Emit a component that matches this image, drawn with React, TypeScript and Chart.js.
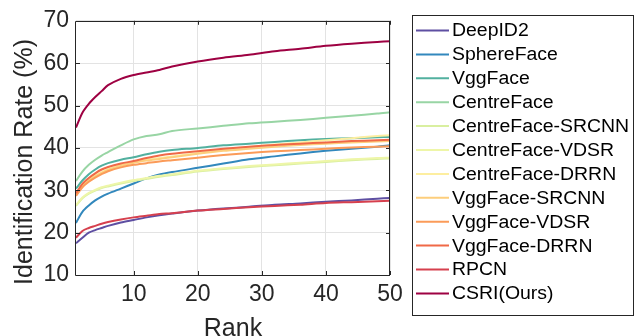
import React, { useEffect, useRef } from "react";
import { Chart, registerables } from "chart.js";

Chart.register(...registerables);

const ranks = [1, 2, 3, 4, 5, 6, 8, 10, 12, 14, 16, 20, 24, 28, 32, 36, 40, 44, 48, 50];

const seriesNames = [
  "DeepID2",
  "SphereFace",
  "VggFace",
  "CentreFace",
  "CentreFace-SRCNN",
  "CentreFace-VDSR",
  "CentreFace-DRRN",
  "VggFace-SRCNN",
  "VggFace-VDSR",
  "VggFace-DRRN",
  "RPCN",
  "CSRI(Ours)",
];

const seriesColors = [
  "#5e4fa2",
  "#3288bd",
  "#52b09f",
  "#98d5a4",
  "#d9efa0",
  "#eef6a8",
  "#fdeea0",
  "#fdce7c",
  "#fb9b59",
  "#f06947",
  "#d6404e",
  "#9e0142",
];

const deepID2 = [17.5, 18.8, 20.0, 20.6, 21.1, 21.6, 22.4, 23.0, 23.6, 24.1, 24.5, 25.2, 25.7, 26.1, 26.6, 26.9, 27.3, 27.6, 28.0, 28.2];
const sphereFace = [22.3, 24.9, 26.4, 27.6, 28.5, 29.2, 30.4, 31.6, 32.8, 33.7, 34.3, 35.3, 36.3, 37.3, 38.0, 38.7, 39.3, 39.8, 40.3, 40.6];
const vggFace = [30.4, 32.3, 33.8, 34.9, 35.8, 36.4, 37.2, 37.8, 38.5, 39.1, 39.5, 40.0, 40.6, 41.0, 41.4, 41.8, 42.1, 42.3, 42.5, 42.6];
const centreFace = [32.2, 34.4, 36.0, 37.2, 38.2, 39.0, 40.6, 42.0, 42.8, 43.2, 44.0, 44.6, 45.2, 45.8, 46.2, 46.6, 47.1, 47.6, 48.1, 48.4];
const centreFaceSRCNN = [26.3, 28.1, 29.2, 29.9, 30.5, 30.9, 31.6, 32.2, 32.7, 33.2, 33.6, 34.4, 35.0, 35.5, 35.9, 36.3, 36.7, 37.1, 37.4, 37.5];
const centreFaceVDSR = [26.5, 28.3, 29.4, 30.1, 30.7, 31.1, 31.8, 32.4, 32.9, 33.4, 33.8, 34.6, 35.2, 35.7, 36.1, 36.5, 36.9, 37.3, 37.6, 37.7];
const centreFaceDRRN = [29.0, 31.0, 32.5, 33.5, 34.3, 35.0, 36.0, 36.7, 37.2, 37.6, 38.0, 38.8, 39.6, 40.2, 40.8, 41.3, 41.8, 42.3, 42.8, 43.0];
const vggFaceSRCNN = [28.9, 30.9, 32.3, 33.3, 34.1, 34.8, 35.8, 36.5, 37.0, 37.4, 37.8, 38.6, 39.3, 39.8, 40.3, 40.7, 41.0, 41.3, 41.5, 41.6];
const vggFaceVDSR = [28.7, 30.7, 32.0, 33.0, 33.8, 34.5, 35.4, 36.0, 36.4, 36.8, 37.1, 37.7, 38.3, 38.8, 39.2, 39.5, 39.8, 40.1, 40.3, 40.4];
const vggFaceDRRN = [29.3, 31.5, 32.9, 34.0, 34.9, 35.5, 36.3, 36.9, 37.6, 38.2, 38.6, 39.2, 39.8, 40.3, 40.7, 41.0, 41.3, 41.6, 41.8, 41.9];
const rpcn = [18.8, 20.4, 21.1, 21.6, 22.1, 22.5, 23.1, 23.6, 24.0, 24.4, 24.6, 25.2, 25.6, 26.0, 26.3, 26.6, 27.0, 27.2, 27.4, 27.5];
const csri = [44.8, 48.3, 50.4, 52.0, 53.4, 54.8, 56.3, 57.2, 57.8, 58.4, 59.2, 60.4, 61.3, 62.0, 62.8, 63.4, 64.1, 64.6, 65.0, 65.2];

const seriesValues = [
  deepID2,
  sphereFace,
  vggFace,
  centreFace,
  centreFaceSRCNN,
  centreFaceVDSR,
  centreFaceDRRN,
  vggFaceSRCNN,
  vggFaceVDSR,
  vggFaceDRRN,
  rpcn,
  csri,
];

const xTickValues = [10, 20, 30, 40, 50];
const yTickValues = [10, 20, 30, 40, 50, 60, 70];
const xTitle = "Rank";
const yTitle = "Identification Rate (%)";

const FONT = "'Liberation Sans', Arial, Helvetica, sans-serif";
const AXIS_COLOR = "#262626";

const framePlugin = {
  id: "frameAndLegend",
  afterDraw(chart: any) {
    const { ctx, chartArea } = chart;
    const { left, right, top, bottom } = chartArea;
    const xs = chart.scales.x;
    const ys = chart.scales.y;
    ctx.save();
    ctx.strokeStyle = AXIS_COLOR;
    ctx.lineWidth = 1;
    ctx.beginPath();
    ctx.rect(Math.round(left) - 0.5, Math.round(top) + 0.5, Math.round(right - left), Math.round(bottom - top));
    ctx.stroke();
    const tl = 4;
    ctx.beginPath();
    yTickValues.forEach((v) => {
      const py = Math.round(ys.getPixelForValue(v)) + 0.5;
      ctx.moveTo(left, py);
      ctx.lineTo(left + tl, py);
      ctx.moveTo(right, py);
      ctx.lineTo(right - tl, py);
    });
    xTickValues.forEach((v) => {
      const px = Math.round(xs.getPixelForValue(v)) + 0.5;
      ctx.moveTo(px, bottom);
      ctx.lineTo(px, bottom - tl);
      ctx.moveTo(px, top);
      ctx.lineTo(px, top + tl);
    });
    ctx.stroke();

    // axis titles
    ctx.fillStyle = AXIS_COLOR;
    ctx.font = `25px ${FONT}`;
    ctx.textAlign = "center";
    ctx.textBaseline = "alphabetic";
    ctx.fillText(xTitle, (left + right) / 2, 336);
    ctx.save();
    ctx.translate(25, 162);
    ctx.rotate(-Math.PI / 2);
    ctx.textBaseline = "middle";
    ctx.fillText(yTitle, 0, 0);
    ctx.restore();

    // legend box
    const bx = 412.5;
    const by = 15.5;
    const bw = 221;
    const bh = 300;
    ctx.fillStyle = "#ffffff";
    ctx.fillRect(bx, by, bw, bh);
    ctx.strokeStyle = AXIS_COLOR;
    ctx.lineWidth = 1;
    ctx.strokeRect(bx, by, bw, bh);
    ctx.font = `18px ${FONT}`;
    ctx.textBaseline = "middle";
    ctx.textAlign = "left";
    chart.data.datasets.forEach((ds: any, i: number) => {
      const y = 30.5 + i * 23.9;
      ctx.strokeStyle = ds.borderColor;
      ctx.lineWidth = 2;
      ctx.beginPath();
      ctx.moveTo(416, y);
      ctx.lineTo(449, y);
      ctx.stroke();
      ctx.fillStyle = "#000000";
      ctx.save();
      ctx.translate(452, y + 1);
      ctx.scale(1.08, 1);
      ctx.fillText(ds.label, 0, 0);
      ctx.restore();
    });
    ctx.restore();
  },
};

export default function App() {
  const canvasRef = useRef<HTMLCanvasElement | null>(null);

  useEffect(() => {
    if (!canvasRef.current) return;
    const datasets = seriesNames.map((name, i) => ({
      label: name,
      data: ranks.map((r, j) => ({ x: r, y: seriesValues[i][j] })),
      borderColor: seriesColors[i],
      backgroundColor: seriesColors[i],
      borderWidth: 2,
      pointRadius: 0,
      tension: 0.3,
      fill: false,
      order: seriesNames.length - i,
    }));
    const chart = new Chart(canvasRef.current, {
      type: "line",
      data: { datasets },
      plugins: [framePlugin],
      options: {
        responsive: false,
        animation: false,
        maintainAspectRatio: false,
        layout: { padding: { left: 0, top: 15, right: 245, bottom: 0 } },
        plugins: {
          legend: { display: false },
          tooltip: { enabled: false },
        },
        scales: {
          x: {
            type: "linear",
            min: 1,
            max: 50,
            afterBuildTicks: (scale: any) => {
              scale.ticks = xTickValues.map((v) => ({ value: v }));
            },
            afterFit: (scale: any) => {
              scale.height = 61;
            },
            grid: { color: "#e3e3e3", drawTicks: false, lineWidth: 1 },
            border: { display: false },
            ticks: {
              color: AXIS_COLOR,
              font: { family: FONT, size: 23 },
              padding: 6,
              maxRotation: 0,
              autoSkip: false,
            },
            title: { display: false },
          },
          y: {
            type: "linear",
            min: 10,
            max: 70,
            afterBuildTicks: (scale: any) => {
              scale.ticks = yTickValues.map((v) => ({ value: v }));
            },
            afterFit: (scale: any) => {
              scale.width = 76;
            },
            grid: { color: "#e3e3e3", drawTicks: false, lineWidth: 1 },
            border: { display: false },
            ticks: {
              color: AXIS_COLOR,
              font: { family: FONT, size: 23 },
              padding: 7,
              autoSkip: false,
            },
            title: { display: false },
          },
        },
      } as any,
    });
    return () => chart.destroy();
  }, []);

  return (
    <div style={{ position: "fixed", left: 0, top: 0, width: 635, height: 336, background: "#ffffff" }}>
      <canvas ref={canvasRef} width={635} height={336} style={{ width: 635, height: 336, display: "block" }} />
    </div>
  );
}
